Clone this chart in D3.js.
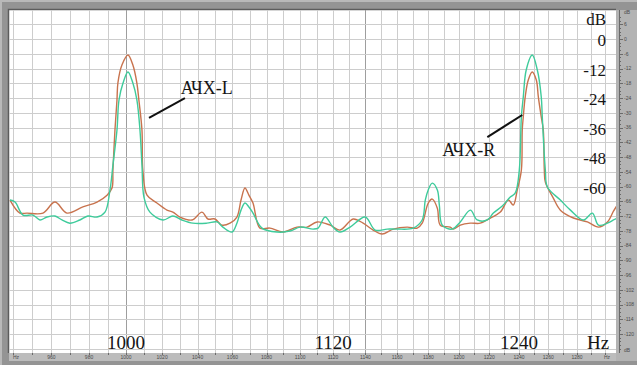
<!DOCTYPE html>
<html>
<head>
<meta charset="utf-8">
<script src="https://cdn.jsdelivr.net/npm/d3@7"></script>
<style>
  body { margin: 0; background: #fff; }
  svg { display: block; }
  .grid line { stroke: #cdcdcd; stroke-width: 1; shape-rendering: crispEdges; }
  .grid line.major { stroke: #9e9e9e; }
  .curve { fill: none; stroke-width: 1.4; stroke-linejoin: round; }
  .big-label { font-family: 'Liberation Serif', 'DejaVu Serif', serif; fill: #151515; }
  .tiny-label { font-family: 'Liberation Sans', sans-serif; font-size: 5px; fill: #4a4a4a; }
  .axis-line { stroke: #6a6a6a; stroke-width: 1; shape-rendering: crispEdges; }
</style>
</head>
<body>
<div id="chart"></div>
<script>
// Frequency grid / tick values (Hz)
const gridFreqs = d3.range(940, 1310, 10);
const majorFreqs = [1000, 1140];
const freqTickLabels = [960, 980, 1000, 1020, 1040, 1060, 1080, 1100, 1120, 1140, 1160, 1180, 1200, 1220, 1240, 1260, 1280];
const bigFreqLabels = [1000, 1120, 1240];

// Level ticks (dB)
const dbTicks = [6, 0, -6, -12, -18, -24, -30, -36, -42, -48, -54, -60, -66, -72, -78, -84, -90, -96, -102, -108, -114, -120];
const bigDbLabels = [0, -12, -24, -36, -48, -60];

// АЧХ-L (brown)
const leftFreq = [938.5, 943.6, 947.3, 955.6, 961.9, 968.2, 976.7, 984.3, 989.7, 992.4, 992.9, 994.0, 995.1, 995.6, 997.8,
  1001.1, 1003.8, 1006.0, 1007.1, 1008.8, 1009.3, 1011.6, 1017.1, 1022.7, 1026.0, 1030.0, 1036.8, 1042.5, 1045.9, 1049.9,
  1053.9, 1058.6, 1062.6, 1065.0, 1067.3, 1069.6, 1072.0, 1076.1, 1082.0, 1089.8, 1098.1, 1104.2, 1110.3, 1118.2, 1124.3,
  1132.4, 1138.6, 1144.9, 1150.5, 1157.5, 1166.4, 1172.8, 1176.0, 1179.9, 1182.5, 1185.8, 1187.7, 1194.2, 1196.2, 1200.8,
  1207.4, 1214.0, 1220.7, 1227.4, 1232.8, 1236.1, 1238.8, 1241.6, 1242.2, 1242.9, 1244.2, 1246.3, 1249.0, 1251.8, 1253.2,
  1255.2, 1256.6, 1257.3, 1258.0, 1263.5, 1268.4, 1277.5, 1287.3, 1295.1, 1301.5, 1305.8, 1308];
const leftDb = [-65.5, -70.8, -70.8, -70.8, -66.3, -70.8, -68.3, -66.3, -63.5, -60.6, -53.3, -37.0, -24.8, -17.9, -10.6,
  -6.5, -10.6, -17.9, -24.8, -37.0, -53.3, -63.5, -66.7, -69.6, -70.4, -72.4, -73.6, -70.4, -73.2, -73.2,
  -75.7, -74.9, -72.4, -65.5, -60.6, -63.5, -66.7, -76.9, -76.9, -78.5, -76.5, -76.5, -74.4, -75.7, -77.7,
  -73.2, -74.9, -77.7, -79.3, -77.3, -76.5, -76.9, -74.9, -66.7, -65.1, -68.8, -75.7, -76.5, -77.3, -75.7,
  -74.9, -74.9, -72.8, -70.4, -65.5, -67.5, -61.4, -53.3, -37.0, -31.7, -23.6, -16.7, -13.4, -16.7, -23.6,
  -31.7, -37.0, -53.3, -58.2, -64.7, -69.6, -72.8, -74.4, -76.5, -74.4, -70.0, -68.0];

// АЧХ-R (green)
const rightFreq = [938.5, 941.1, 945.2, 950.4, 954.0, 957.7, 961.9, 965.6, 969.8, 975.1, 979.4, 984.3, 988.6, 991.3, 992.9,
  995.1, 996.2, 998.4, 1001.1, 1003.8, 1006.0, 1007.7, 1008.8, 1009.9, 1013.2, 1020.5, 1026.0, 1031.1, 1037.3, 1045.3,
  1051.1, 1054.5, 1059.7, 1062.6, 1065.0, 1067.3, 1069.6, 1072.0, 1077.3, 1086.2, 1094.0, 1100.0, 1107.9, 1110.9, 1115.2,
  1120.0, 1124.3, 1130.5, 1139.9, 1146.1, 1153.7, 1160.0, 1170.2, 1176.0, 1178.0, 1179.9, 1182.5, 1185.8, 1187.1, 1189.0,
  1195.5, 1200.8, 1207.4, 1212.0, 1218.7, 1222.7, 1228.7, 1234.1, 1237.5, 1240.2, 1241.6, 1242.9, 1244.9, 1249.0, 1252.5,
  1255.2, 1255.9, 1258.0, 1259.4, 1268.4, 1275.4, 1284.5, 1290.8, 1295.1, 1301.5, 1305.8, 1308];
const rightDb = [-65.5, -66.3, -71.6, -71.6, -73.6, -72.4, -72.0, -73.6, -74.9, -73.6, -72.0, -72.4, -70.4, -61.4, -51.3,
  -37.0, -24.8, -17.9, -13.4, -17.9, -24.8, -37.0, -51.3, -64.3, -70.4, -73.6, -72.0, -73.6, -74.9, -74.9,
  -74.4, -76.5, -78.5, -74.9, -69.6, -66.7, -68.3, -70.8, -76.9, -78.5, -78.1, -76.5, -77.3, -76.9, -72.4,
  -76.5, -78.5, -76.5, -72.4, -77.7, -77.3, -77.3, -76.9, -73.6, -65.5, -61.4, -58.6, -61.4, -67.5, -75.7,
  -77.3, -74.4, -69.6, -73.6, -73.6, -70.8, -67.9, -64.3, -62.6, -53.3, -31.7, -23.6, -12.6, -6.5, -12.6,
  -23.6, -31.7, -53.3, -60.2, -65.5, -69.6, -73.6, -70.8, -75.7, -74.9, -73.6, -73.0];

// Callout labels: leader line from -> to, text anchor (all in Hz / dB)
const calloutNames = ['АЧХ-L', 'АЧХ-R'];
const calloutFrom = [[1012.7, -32.1], [1218.7, -39.9]];
const calloutTo = [[1032.8, -24.0], [1242.2, -30.9]];
const calloutText = [[1030.5, -22.4], [1189.0, -47.6]];

class SpectrumChart {

  constructor(_config) {
    this.config = {
      parentElement: _config.parentElement,
      containerWidth: 637,
      containerHeight: 365,
      plot: {left: 9, top: 10, right: 616, bottom: 353},
      freqDomain: [938, 1307.6],
      dbDomain: [11.8, -127.7],
      colors: {left: '#c8734e', right: '#3ecb9b'}
    };
    this.initVis();
  }

  initVis() {
    let vis = this;
    const p = vis.config.plot;

    vis.svg = d3.select(vis.config.parentElement).append('svg')
        .attr('width', vis.config.containerWidth)
        .attr('height', vis.config.containerHeight);

    // Log frequency scale, linear dB scale
    vis.xScale = d3.scaleLog()
        .domain(vis.config.freqDomain)
        .range([p.left, p.right]);

    vis.yScale = d3.scaleLinear()
        .domain(vis.config.dbDomain)
        .range([p.top, p.bottom]);

    vis.svg.append('defs').append('clipPath')
        .attr('id', 'plot-clip')
      .append('rect')
        .attr('x', p.left)
        .attr('y', p.top)
        .attr('width', p.right - p.left)
        .attr('height', p.bottom - p.top);

    vis.renderFrame();
    vis.renderGrid();
    vis.renderCurves();
    vis.renderLabels();
  }

  // Grey window frame plus the two scale strips
  renderFrame() {
    let vis = this;
    const p = vis.config.plot;
    const W = vis.config.containerWidth, H = vis.config.containerHeight;

    vis.svg.append('rect')
        .attr('width', W).attr('height', H)
        .attr('fill', '#949494');
    vis.svg.append('rect')
        .attr('width', W).attr('height', 2)
        .attr('fill', '#b9b9b9');
    vis.svg.append('rect')
        .attr('width', 2).attr('height', H)
        .attr('fill', '#b9b9b9');

    // right dB strip
    vis.svg.append('rect')
        .attr('x', p.right).attr('y', p.top)
        .attr('width', W - p.right).attr('height', p.bottom - p.top + 8)
        .attr('fill', '#b3b3b3');

    // bottom Hz strip
    vis.svg.append('rect')
        .attr('x', p.left).attr('y', p.bottom)
        .attr('width', p.right - p.left).attr('height', 8)
        .attr('fill', '#bcbcbc');

    vis.svg.append('rect')
        .attr('x', p.left).attr('y', p.top)
        .attr('width', p.right - p.left).attr('height', p.bottom - p.top)
        .attr('fill', '#fff');

    // inner shadow on left/top edge
    vis.svg.append('path')
        .attr('d', `M${p.left - 0.5},${p.bottom}V${p.top - 0.5}H${p.right}`)
        .attr('fill', 'none')
        .attr('stroke', '#5c5c5c')
        .attr('stroke-width', 1.5);
  }

  renderGrid() {
    let vis = this;
    const p = vis.config.plot;
    const grid = vis.svg.append('g').attr('class', 'grid');

    grid.selectAll('.v-line')
        .data(gridFreqs)
      .join('line')
        .attr('class', d => majorFreqs.includes(d) ? 'v-line major' : 'v-line')
        .attr('x1', d => Math.round(vis.xScale(d)) + 0.5)
        .attr('x2', d => Math.round(vis.xScale(d)) + 0.5)
        .attr('y1', p.top)
        .attr('y2', p.bottom);

    grid.selectAll('.h-line')
        .data(dbTicks.concat([-126]))
      .join('line')
        .attr('class', 'h-line')
        .attr('x1', p.left)
        .attr('x2', p.right)
        .attr('y1', d => Math.round(vis.yScale(d)) + 0.5)
        .attr('y2', d => Math.round(vis.yScale(d)) + 0.5);

    // right strip: axis line, ticks and tiny dB labels
    const right = vis.svg.append('g');
    right.append('line')
        .attr('class', 'axis-line')
        .attr('x1', p.right + 3.5).attr('x2', p.right + 3.5)
        .attr('y1', p.top).attr('y2', p.bottom);
    right.selectAll('.minor-tick')
        .data(d3.range(9, -127, -1.5))
      .join('line')
        .attr('class', 'axis-line')
        .attr('x1', p.right + 3.5).attr('x2', p.right + 5)
        .attr('y1', d => Math.round(vis.yScale(d)) + 0.5)
        .attr('y2', d => Math.round(vis.yScale(d)) + 0.5);
    right.selectAll('.major-tick')
        .data(dbTicks)
      .join('line')
        .attr('class', 'axis-line')
        .attr('x1', p.right + 3.5).attr('x2', p.right + 7)
        .attr('y1', d => Math.round(vis.yScale(d)) + 0.5)
        .attr('y2', d => Math.round(vis.yScale(d)) + 0.5);
    right.selectAll('.tiny-label')
        .data(dbTicks)
      .join('text')
        .attr('class', 'tiny-label')
        .attr('x', p.right + 8)
        .attr('y', d => vis.yScale(d))
        .attr('dy', '0.35em')
        .text(d => d);
    right.append('text')
        .attr('class', 'tiny-label')
        .attr('x', p.right + 8)
        .attr('y', p.top + 2)
        .attr('dy', '0.35em')
        .text('dB');
    right.append('text')
        .attr('class', 'tiny-label')
        .attr('x', p.right + 8)
        .attr('y', p.bottom - 3)
        .attr('dy', '0.35em')
        .text('dB');

    // bottom strip: ticks and tiny Hz labels
    const bottom = vis.svg.append('g');
    bottom.selectAll('line')
        .data(gridFreqs)
      .join('line')
        .attr('class', 'axis-line')
        .attr('x1', d => Math.round(vis.xScale(d)) + 0.5)
        .attr('x2', d => Math.round(vis.xScale(d)) + 0.5)
        .attr('y1', p.bottom)
        .attr('y2', p.bottom + 2);
    bottom.selectAll('.tiny-label')
        .data(freqTickLabels)
      .join('text')
        .attr('class', 'tiny-label')
        .attr('x', d => vis.xScale(d))
        .attr('y', p.bottom + 6)
        .attr('text-anchor', 'middle')
        .text(d => d);
    bottom.append('text')
        .attr('class', 'tiny-label')
        .attr('x', p.left + 7)
        .attr('y', p.bottom + 6)
        .attr('text-anchor', 'middle')
        .text('Hz');
    bottom.append('text')
        .attr('class', 'tiny-label')
        .attr('x', p.right - 9)
        .attr('y', p.bottom + 6)
        .attr('text-anchor', 'middle')
        .text('Hz');
  }

  renderCurves() {
    let vis = this;

    const line = d3.line()
        .x(d => vis.xScale(d[0]))
        .y(d => vis.yScale(d[1]))
        .curve(d3.curveCatmullRom.alpha(0.5));

    const series = [
      {key: 'left', points: d3.zip(leftFreq, leftDb)},
      {key: 'right', points: d3.zip(rightFreq, rightDb)}
    ];

    vis.svg.append('g')
        .attr('clip-path', 'url(#plot-clip)')
      .selectAll('.curve')
        .data(series)
      .join('path')
        .attr('class', 'curve')
        .attr('stroke', d => vis.config.colors[d.key])
        .attr('d', d => line(d.points));
  }

  renderLabels() {
    let vis = this;
    const p = vis.config.plot;

    // large overlay labels along the bottom
    vis.svg.selectAll('.freq-big')
        .data(bigFreqLabels)
      .join('text')
        .attr('class', 'big-label freq-big')
        .attr('x', d => vis.xScale(d))
        .attr('y', p.bottom - 4)
        .attr('text-anchor', 'middle')
        .attr('font-size', 19)
        .text(d => d);
    vis.svg.append('text')
        .attr('class', 'big-label')
        .attr('x', p.right - 18)
        .attr('y', p.bottom - 4)
        .attr('text-anchor', 'middle')
        .attr('font-size', 19)
        .text('Hz');

    // large overlay labels down the right side
    vis.svg.selectAll('.db-big')
        .data(bigDbLabels)
      .join('text')
        .attr('class', 'big-label db-big')
        .attr('x', p.right - 10)
        .attr('y', d => vis.yScale(d) + 7)
        .attr('text-anchor', 'end')
        .attr('font-size', 17)
        .text(d => d);
    vis.svg.append('text')
        .attr('class', 'big-label')
        .attr('x', p.right - 10)
        .attr('y', vis.yScale(6) + 1)
        .attr('text-anchor', 'end')
        .attr('font-size', 17)
        .text('dB');

    // callouts
    const callouts = calloutNames.map((name, i) => ({
      name, from: calloutFrom[i], to: calloutTo[i], at: calloutText[i]
    }));
    const g = vis.svg.selectAll('.callout')
        .data(callouts)
      .join('g')
        .attr('class', 'callout');
    g.append('line')
        .attr('x1', d => vis.xScale(d.from[0]))
        .attr('y1', d => vis.yScale(d.from[1]))
        .attr('x2', d => vis.xScale(d.to[0]))
        .attr('y2', d => vis.yScale(d.to[1]))
        .attr('stroke', '#111')
        .attr('stroke-width', 2);
    g.append('text')
        .attr('class', 'big-label')
        .attr('x', d => vis.xScale(d.at[0]))
        .attr('y', d => vis.yScale(d.at[1]))
        .attr('font-size', 18)
        .text(d => d.name);
  }
}

new SpectrumChart({parentElement: '#chart'});
</script>
</body>
</html>
